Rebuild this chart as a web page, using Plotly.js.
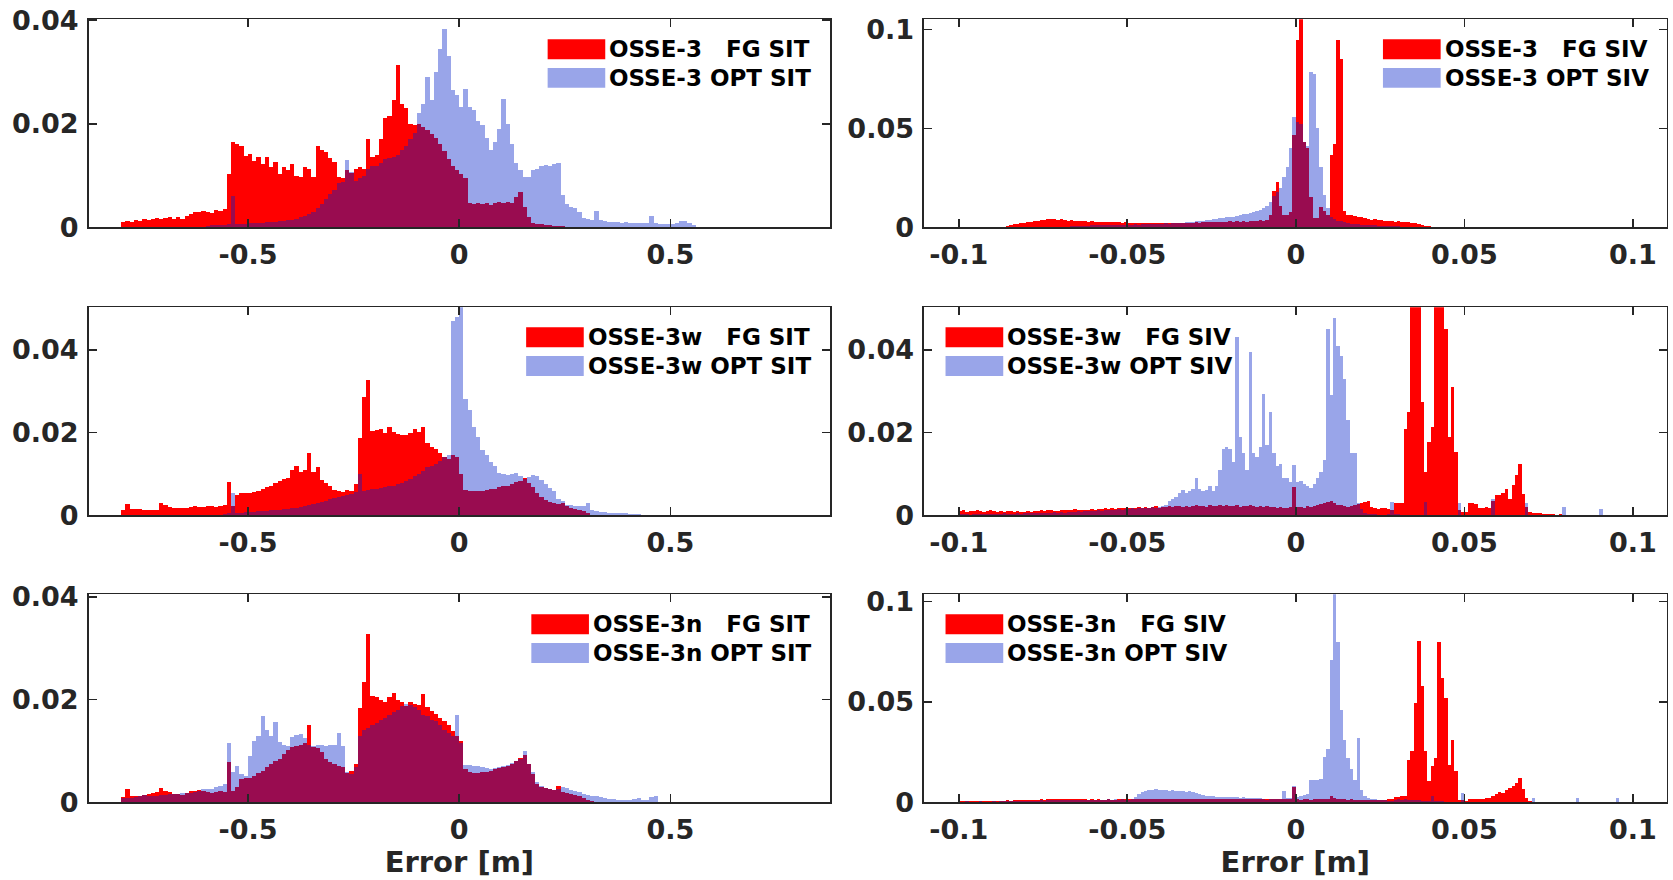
<!DOCTYPE html>
<html>
<head>
<meta charset="utf-8">
<script src="https://cdn.plot.ly/plotly-3.0.1.min.js"></script>
<style>
html,body{margin:0;padding:0;background:#ffffff;}
#chart{width:1673px;height:880px;}
</style>
</head>
<body>
<div id="chart"></div>
<script>
// ---------------- bins & ticks ----------------
const sitBinStart = -0.80, sitBinWidth = 0.01;   // SIT histograms: bins of 0.01 m
const sivBinStart = -0.100, sivBinWidth = 0.001; // SIV histograms: bins of 0.001 m

const sitXTickVals = [-0.5, 0, 0.5];
const sitXTickText = ['-0.5', '0', '0.5'];
const sivXTickVals = [-0.1, -0.05, 0, 0.05, 0.1];
const sivXTickText = ['-0.1', '-0.05', '0', '0.05', '0.1'];
const sitYTickVals = [0, 0.02, 0.04];
const sitYTickText = ['0', '0.02', '0.04'];
const sivYTickValsA = [0, 0.05, 0.1];
const sivYTickTextA = ['0', '0.05', '0.1'];
const sivYTickValsW = [0, 0.02, 0.04];
const sivYTickTextW = ['0', '0.02', '0.04'];

const legendFG  = ['OSSE-3\u00a0\u00a0\u00a0FG SIT', 'OSSE-3\u00a0\u00a0\u00a0FG SIV', 'OSSE-3w\u00a0\u00a0\u00a0FG SIT', 'OSSE-3w\u00a0\u00a0\u00a0FG SIV', 'OSSE-3n\u00a0\u00a0\u00a0FG SIT', 'OSSE-3n\u00a0\u00a0\u00a0FG SIV'];
const legendOPT = ['OSSE-3 OPT SIT', 'OSSE-3 OPT SIV', 'OSSE-3w OPT SIT', 'OSSE-3w OPT SIV', 'OSSE-3n OPT SIT', 'OSSE-3n OPT SIV'];
const xLabel = 'Error [m]';

// ---------------- SIT data (bins from -0.80 step 0.01) ----------------
const osse3_FG_SIT = [
 0.0010,0.0012,0.0011,0.0014,0.0013,0.0016,0.0015,0.0017,0.0018,0.0017,
 0.0018,0.0019,0.0017,0.0020,0.0016,0.0022,0.0026,0.0030,0.0029,0.0032,
 0.0030,0.0028,0.0033,0.0031,0.0036,0.0103,0.0165,0.0160,0.0158,0.0138,
 0.0142,0.0129,0.0135,0.0123,0.0136,0.0116,0.0126,0.0103,0.0116,0.0110,
 0.0123,0.0100,0.0098,0.0117,0.0112,0.0097,0.0158,0.0150,0.0145,0.0133,
 0.0126,0.0098,0.0096,0.0110,0.0104,0.0112,0.0116,0.0112,0.0170,0.0135,
 0.0140,0.0170,0.0212,0.0215,0.0245,0.0313,0.0238,0.0230,0.0200,0.0198,
 0.0200,0.0194,0.0187,0.0181,0.0172,0.0160,0.0148,0.0132,0.0118,0.0110,
 0.0103,0.0096,0.0046,0.0045,0.0047,0.0045,0.0046,0.0044,0.0047,0.0048,
 0.0046,0.0048,0.0047,0.0058,0.0068,0.0040,0.0020,0.0008,0.0006,0.0006,
 0.0005,0.0004,0.0003,0.0003,0.0002,0.0001,0,0,0,0,
 0,0,0,0,0,0,0,0,0,0,
 0,0,0,0,0,0,0,0,0,0,
 0,0,0,0,0,0];
const osse3_OPT_SIT = [
 0,0,0,0,0,0,0,0,0,0,
 0,0,0,0,0,0,0,0,0,0,
 0.0003,0.0004,0.0004,0.0005,0.0005,0.0006,0.0060,0.0006,0.0007,0.0007,
 0.0008,0.0008,0.0009,0.0009,0.0010,0.0010,0.0011,0.0012,0.0013,0.0014,
 0.0015,0.0017,0.0019,0.0022,0.0026,0.0030,0.0038,0.0045,0.0055,0.0065,
 0.0072,0.0085,0.0088,0.0130,0.0106,0.0090,0.0095,0.0100,0.0112,0.0118,
 0.0118,0.0125,0.0132,0.0134,0.0136,0.0140,0.0150,0.0158,0.0170,0.0182,
 0.0220,0.0238,0.0290,0.0245,0.0300,0.0345,0.0384,0.0330,0.0265,0.0255,
 0.0232,0.0268,0.0232,0.0226,0.0206,0.0198,0.0172,0.0150,0.0165,0.0190,
 0.0248,0.0200,0.0160,0.0125,0.0110,0.0097,0.0098,0.0110,0.0112,0.0118,
 0.0120,0.0118,0.0122,0.0125,0.0062,0.0045,0.0040,0.0038,0.0030,0.0018,
 0.0016,0.0015,0.0032,0.0014,0.0012,0.0011,0.0010,0.0010,0.0009,0.0010,
 0.0009,0.0008,0.0009,0.0008,0.0008,0.0022,0.0008,0.0007,0.0007,0.0006,
 0.0007,0.0008,0.0013,0.0012,0.0009,0.0005];

const osse3w_FG_SIT = [
 0.0014,0.0028,0.0016,0.0016,0.0015,0.0014,0.0014,0.0013,0.0013,0.0030,
 0.0024,0.0020,0.0018,0.0019,0.0017,0.0018,0.0021,0.0022,0.0020,0.0020,
 0.0022,0.0023,0.0021,0.0022,0.0024,0.0080,0.0022,0.0050,0.0053,0.0054,
 0.0055,0.0057,0.0060,0.0064,0.0068,0.0072,0.0078,0.0082,0.0087,0.0091,
 0.0110,0.0120,0.0105,0.0110,0.0152,0.0105,0.0118,0.0085,0.0078,0.0072,
 0.0062,0.0058,0.0056,0.0062,0.0060,0.0075,0.0188,0.0285,0.0327,0.0205,
 0.0206,0.0210,0.0200,0.0214,0.0202,0.0196,0.0194,0.0195,0.0200,0.0208,
 0.0202,0.0214,0.0175,0.0165,0.0160,0.0150,0.0142,0.0136,0.0145,0.0140,
 0.0100,0.0062,0.0060,0.0060,0.0059,0.0060,0.0062,0.0063,0.0065,0.0068,
 0.0070,0.0072,0.0076,0.0080,0.0084,0.0090,0.0078,0.0068,0.0055,0.0045,
 0.0038,0.0032,0.0030,0.0028,0.0030,0.0022,0.0018,0.0016,0.0014,0.0010,
 0.0005,0.0002,0,0,0,0,0,0,0,0,
 0,0,0,0,0,0,0,0,0,0,
 0,0,0,0,0,0];
const osse3w_OPT_SIT = [
 0,0,0,0,0,0,0,0,0,0,
 0,0,0,0,0,0,0,0,0,0,
 0,0,0,0,0.0003,0.0005,0.0055,0.0006,0.0007,0.0008,
 0.0008,0.0009,0.0010,0.0010,0.0011,0.0012,0.0013,0.0014,0.0015,0.0016,
 0.0017,0.0018,0.0020,0.0022,0.0024,0.0027,0.0030,0.0033,0.0036,0.0040,
 0.0042,0.0045,0.0048,0.0050,0.0052,0.0056,0.0100,0.0060,0.0062,0.0064,
 0.0065,0.0066,0.0068,0.0070,0.0072,0.0075,0.0078,0.0082,0.0088,0.0095,
 0.0100,0.0108,0.0116,0.0120,0.0125,0.0132,0.0140,0.0145,0.0470,0.0480,
 0.0510,0.0282,0.0254,0.0214,0.0190,0.0157,0.0145,0.0130,0.0120,0.0102,
 0.0100,0.0098,0.0100,0.0102,0.0095,0.0089,0.0092,0.0097,0.0096,0.0085,
 0.0075,0.0066,0.0058,0.0040,0.0034,0.0026,0.0024,0.0023,0.0022,0.0022,
 0.0030,0.0012,0.0010,0.0009,0.0008,0.0007,0.0006,0.0006,0.0005,0.0005,
 0.0004,0.0004,0.0003,0.0002,0.0001,0,0,0,0,0,
 0,0,0,0,0,0];

const osse3n_FG_SIT = [
 0.0010,0.0026,0.0012,0.0013,0.0012,0.0014,0.0016,0.0018,0.0020,0.0028,
 0.0022,0.0020,0.0017,0.0016,0.0015,0.0018,0.0022,0.0023,0.0024,0.0022,
 0.0020,0.0019,0.0021,0.0022,0.0020,0.0078,0.0022,0.0030,0.0045,0.0047,
 0.0048,0.0052,0.0058,0.0062,0.0068,0.0074,0.0080,0.0085,0.0095,0.0102,
 0.0108,0.0110,0.0112,0.0115,0.0150,0.0108,0.0106,0.0098,0.0085,0.0079,
 0.0074,0.0070,0.0068,0.0058,0.0062,0.0075,0.0184,0.0235,0.0328,0.0207,
 0.0205,0.0200,0.0196,0.0205,0.0212,0.0200,0.0196,0.0188,0.0195,0.0192,
 0.0190,0.0210,0.0185,0.0178,0.0172,0.0165,0.0158,0.0150,0.0138,0.0130,
 0.0120,0.0065,0.0059,0.0058,0.0058,0.0059,0.0060,0.0062,0.0064,0.0066,
 0.0068,0.0070,0.0074,0.0080,0.0086,0.0092,0.0075,0.0055,0.0035,0.0030,
 0.0028,0.0026,0.0025,0.0032,0.0020,0.0018,0.0016,0.0014,0.0012,0.0008,
 0.0004,0.0002,0,0,0,0,0,0,0,0,
 0,0,0,0,0,0,0,0,0,0,
 0,0,0,0,0,0];
const osse3n_OPT_SIT = [
 0.0008,0.0008,0.0009,0.0010,0.0012,0.0014,0.0013,0.0012,0.0013,0.0014,
 0.0015,0.0016,0.0016,0.0017,0.0018,0.0018,0.0019,0.0020,0.0022,0.0026,
 0.0026,0.0027,0.0030,0.0032,0.0035,0.0115,0.0060,0.0070,0.0055,0.0052,
 0.0090,0.0120,0.0130,0.0168,0.0140,0.0130,0.0157,0.0118,0.0112,0.0110,
 0.0128,0.0132,0.0134,0.0125,0.0112,0.0110,0.0112,0.0111,0.0110,0.0111,
 0.0112,0.0135,0.0110,0.0060,0.0055,0.0068,0.0130,0.0140,0.0145,0.0150,
 0.0155,0.0160,0.0165,0.0170,0.0175,0.0180,0.0188,0.0192,0.0190,0.0186,
 0.0180,0.0170,0.0168,0.0160,0.0158,0.0150,0.0140,0.0135,0.0130,0.0170,
 0.0115,0.0072,0.0072,0.0071,0.0070,0.0068,0.0066,0.0065,0.0066,0.0068,
 0.0070,0.0072,0.0076,0.0080,0.0085,0.0100,0.0075,0.0060,0.0040,0.0032,
 0.0028,0.0026,0.0024,0.0026,0.0030,0.0028,0.0025,0.0022,0.0020,0.0017,
 0.0015,0.0013,0.0012,0.0010,0.0008,0.0007,0.0006,0.0005,0.0005,0.0004,
 0.0005,0.0006,0.0008,0.0004,0.0004,0.0010,0.0012,0,0,0,
 0,0,0,0,0,0];

// ---------------- SIV data (bins from -0.100 step 0.001) ----------------
const osse3_FG_SIV = [
 0,0,0,0,0,0,0,0,0,0,
 0,0,0,0,0.0008,0.0012,0.0015,0.0018,0.0020,0.0022,
 0.0025,0.0028,0.0030,0.0032,0.0035,0.0038,0.0042,0.0040,0.0043,0.0038,
 0.0040,0.0036,0.0034,0.0035,0.0032,0.0033,0.0030,0.0031,0.0029,0.0030,
 0.0028,0.0029,0.0027,0.0028,0.0026,0.0027,0.0025,0.0026,0.0024,0.0025,
 0.0023,0.0024,0.0022,0.0023,0.0021,0.0022,0.0020,0.0022,0.0021,0.0020,
 0.0022,0.0021,0.0022,0.0020,0.0023,0.0021,0.0022,0.0024,0.0022,0.0023,
 0.0025,0.0024,0.0026,0.0025,0.0027,0.0026,0.0028,0.0027,0.0029,0.0028,
 0.0030,0.0028,0.0030,0.0027,0.0031,0.0029,0.0032,0.0030,0.0033,0.0035,
 0.0034,0.0037,0.0060,0.0185,0.0230,0.0110,0.0062,0.0060,0.0075,0.0466,
 0.0945,0.1080,0.0430,0.0400,0.0155,0.0045,0.0045,0.0104,0.0080,0.0060,
 0.0365,0.0420,0.0945,0.0850,0.0080,0.0060,0.0060,0.0055,0.0054,0.0050,
 0.0045,0.0040,0.0038,0.0040,0.0038,0.0035,0.0033,0.0030,0.0032,0.0028,
 0.0030,0.0027,0.0025,0.0026,0.0022,0.0020,0.0016,0.0012,0.0009,0.0006,
 0.0004,0,0,0,0,0,0,0,0,0,
 0,0,0,0,0,0,0,0,0,0,
 0,0,0,0,0,0,0,0,0,0,
 0,0,0,0,0,0,0,0,0,0,
 0,0,0,0,0,0,0,0,0,0,
 0,0,0,0,0,0,0,0,0,0];
const osse3_OPT_SIV = [
 0,0,0,0,0,0,0,0,0,0,
 0,0,0,0,0,0,0,0,0,0,
 0,0,0,0,0,0,0,0,0,0,
 0,0,0.0004,0.0006,0.0007,0.0008,0.0008,0.0009,0.0009,0.0010,
 0.0010,0.0011,0.0010,0.0012,0.0011,0.0012,0.0013,0.0012,0.0013,0.0014,
 0.0013,0.0014,0.0015,0.0014,0.0016,0.0015,0.0017,0.0016,0.0018,0.0017,
 0.0019,0.0020,0.0019,0.0021,0.0022,0.0024,0.0023,0.0026,0.0027,0.0029,
 0.0030,0.0032,0.0034,0.0036,0.0038,0.0040,0.0042,0.0045,0.0047,0.0050,
 0.0052,0.0054,0.0056,0.0060,0.0066,0.0068,0.0072,0.0078,0.0080,0.0088,
 0.0096,0.0110,0.0130,0.0160,0.0180,0.0200,0.0256,0.0306,0.0400,0.0558,
 0.0530,0.0520,0.0430,0.0410,0.0785,0.0777,0.0500,0.0306,0.0163,0.0096,
 0.0050,0.0040,0.0030,0.0030,0.0025,0.0020,0.0018,0.0016,0.0015,0.0014,
 0.0012,0.0012,0.0010,0.0010,0.0009,0.0008,0.0008,0.0007,0.0006,0.0006,
 0.0005,0.0004,0.0003,0.0002,0.0001,0,0,0,0,0,
 0,0,0,0,0,0,0,0,0,0,
 0,0,0,0,0,0,0,0,0,0,
 0,0,0,0,0,0,0,0,0,0,
 0,0,0,0,0,0,0,0,0,0,
 0,0,0,0,0,0,0,0,0,0,
 0,0,0,0,0,0,0,0,0,0];

const osse3w_FG_SIV = [
 0.0010,0.0012,0.0009,0.0011,0.0010,0.0013,0.0011,0.0009,0.0010,0.0012,
 0.0011,0.0009,0.0010,0.0008,0.0010,0.0011,0.0009,0.0010,0.0008,0.0009,
 0.0010,0.0009,0.0011,0.0010,0.0012,0.0011,0.0013,0.0012,0.0010,0.0011,
 0.0012,0.0014,0.0013,0.0012,0.0015,0.0013,0.0014,0.0012,0.0013,0.0015,
 0.0014,0.0016,0.0015,0.0017,0.0016,0.0018,0.0015,0.0017,0.0019,0.0018,
 0.0017,0.0019,0.0018,0.0020,0.0019,0.0021,0.0018,0.0020,0.0022,0.0019,
 0.0021,0.0020,0.0022,0.0021,0.0023,0.0022,0.0020,0.0023,0.0021,0.0022,
 0.0024,0.0022,0.0023,0.0021,0.0024,0.0022,0.0023,0.0025,0.0022,0.0024,
 0.0023,0.0022,0.0024,0.0021,0.0023,0.0022,0.0024,0.0023,0.0021,0.0022,
 0.0021,0.0022,0.0020,0.0021,0.0019,0.0020,0.0018,0.0019,0.0020,0.0069,
 0.0020,0.0021,0.0019,0.0022,0.0020,0.0023,0.0025,0.0028,0.0030,0.0033,
 0.0035,0.0030,0.0026,0.0024,0.0022,0.0020,0.0022,0.0025,0.0028,0.0030,
 0.0032,0.0035,0.0020,0.0017,0.0016,0.0018,0.0017,0.0015,0.0012,0.0030,
 0.0031,0.0030,0.0210,0.0250,0.0520,0.0540,0.0540,0.0273,0.0105,0.0177,
 0.0213,0.0540,0.0540,0.0540,0.0450,0.0189,0.0310,0.0153,0.0013,0.0009,
 0.0009,0.0029,0.0029,0.0028,0.0019,0.0019,0.0020,0.0018,0.0035,0.0049,
 0.0050,0.0054,0.0065,0.0040,0.0073,0.0097,0.0125,0.0052,0.0021,0.0009,
 0.0005,0.0005,0.0005,0.0003,0.0003,0.0003,0.0003,0.0002,0.0003,0.0002,
 0.0002,0.0002,0.0001,0.0002,0.0001,0.0001,0.0001,0,0,0,
 0,0,0,0,0,0,0,0,0,0];
const osse3w_OPT_SIV = [
 0.0003,0.0004,0.0003,0.0002,0.0003,0.0004,0.0003,0.0003,0.0004,0.0003,
 0.0004,0.0003,0.0004,0.0005,0.0004,0.0003,0.0004,0.0005,0.0004,0.0005,
 0.0005,0.0006,0.0005,0.0006,0.0007,0.0006,0.0007,0.0006,0.0008,0.0007,
 0.0008,0.0007,0.0009,0.0008,0.0009,0.0010,0.0009,0.0010,0.0011,0.0010,
 0.0011,0.0012,0.0011,0.0013,0.0012,0.0014,0.0013,0.0015,0.0014,0.0016,
 0.0016,0.0017,0.0016,0.0018,0.0017,0.0019,0.0018,0.0020,0.0019,0.0021,
 0.0022,0.0024,0.0035,0.0040,0.0045,0.0055,0.0062,0.0055,0.0060,0.0065,
 0.0090,0.0065,0.0058,0.0062,0.0070,0.0060,0.0072,0.0110,0.0160,0.0165,
 0.0160,0.0130,0.0430,0.0190,0.0150,0.0110,0.0394,0.0150,0.0140,0.0165,
 0.0293,0.0170,0.0250,0.0150,0.0120,0.0125,0.0090,0.0090,0.0080,0.0122,
 0.0080,0.0082,0.0075,0.0070,0.0066,0.0075,0.0090,0.0105,0.0135,0.0450,
 0.0290,0.0478,0.0410,0.0385,0.0330,0.0230,0.0150,0.0150,0.0030,0.0015,
 0.0005,0.0004,0.0003,0.0003,0.0002,0.0002,0.0002,0.0003,0.0033,0.0003,
 0.0003,0.0002,0.0002,0.0002,0.0002,0.0002,0.0002,0.0002,0.0033,0.0002,
 0.0002,0.0002,0.0002,0.0002,0.0002,0.0002,0.0002,0.0002,0.0030,0.0002,
 0.0002,0.0002,0.0002,0.0002,0.0002,0.0002,0.0002,0.0002,0.0040,0.0002,
 0.0002,0.0002,0.0002,0.0002,0.0002,0.0002,0.0002,0.0002,0.0030,0.0002,
 0.0002,0.0001,0.0001,0.0001,0.0001,0.0001,0.0001,0.0001,0.0001,0.0020,
 0.0001,0.0001,0.0001,0.0001,0.0001,0.0001,0.0001,0.0001,0.0001,0.0001,
 0.0016,0,0,0,0,0,0,0,0,0];

const osse3n_FG_SIV = [
 0.0008,0.0006,0.0009,0.0007,0.0008,0.0006,0.0007,0.0009,0.0008,0.0007,
 0.0008,0.0007,0.0009,0.0008,0.0010,0.0009,0.0011,0.0010,0.0012,0.0011,
 0.0013,0.0012,0.0014,0.0013,0.0015,0.0014,0.0016,0.0015,0.0017,0.0016,
 0.0017,0.0016,0.0018,0.0017,0.0016,0.0017,0.0015,0.0016,0.0014,0.0015,
 0.0014,0.0015,0.0013,0.0014,0.0015,0.0013,0.0014,0.0015,0.0016,0.0015,
 0.0016,0.0017,0.0016,0.0018,0.0017,0.0016,0.0018,0.0017,0.0019,0.0018,
 0.0017,0.0018,0.0016,0.0017,0.0018,0.0016,0.0017,0.0018,0.0017,0.0016,
 0.0017,0.0018,0.0016,0.0017,0.0018,0.0019,0.0017,0.0018,0.0016,0.0017,
 0.0018,0.0017,0.0019,0.0018,0.0017,0.0016,0.0018,0.0017,0.0016,0.0017,
 0.0016,0.0017,0.0015,0.0016,0.0017,0.0015,0.0016,0.0018,0.0017,0.0075,
 0.0015,0.0014,0.0016,0.0015,0.0014,0.0016,0.0015,0.0017,0.0016,0.0018,
 0.0030,0.0020,0.0017,0.0015,0.0016,0.0014,0.0015,0.0013,0.0014,0.0012,
 0.0013,0.0012,0.0014,0.0013,0.0012,0.0014,0.0013,0.0015,0.0018,0.0025,
 0.0028,0.0030,0.0030,0.0213,0.0255,0.0497,0.0805,0.0580,0.0255,0.0105,
 0.0180,0.0222,0.0797,0.0622,0.0522,0.0188,0.0313,0.0158,0.0012,0.0010,
 0.0008,0.0015,0.0018,0.0017,0.0016,0.0018,0.0020,0.0022,0.0030,0.0040,
 0.0050,0.0045,0.0060,0.0070,0.0080,0.0095,0.0120,0.0065,0.0020,0.0005,
 0.0003,0.0002,0.0002,0.0001,0.0001,0,0,0,0,0,
 0,0,0,0,0,0,0,0,0,0,
 0,0,0,0,0,0,0,0,0,0];
const osse3n_OPT_SIV = [
 0.0004,0.0003,0.0005,0.0004,0.0003,0.0004,0.0005,0.0004,0.0003,0.0004,
 0.0005,0.0004,0.0005,0.0006,0.0005,0.0006,0.0007,0.0006,0.0007,0.0008,
 0.0008,0.0009,0.0008,0.0009,0.0010,0.0009,0.0010,0.0011,0.0010,0.0011,
 0.0011,0.0012,0.0011,0.0012,0.0013,0.0012,0.0013,0.0012,0.0013,0.0014,
 0.0013,0.0014,0.0013,0.0014,0.0015,0.0014,0.0015,0.0014,0.0015,0.0012,
 0.0010,0.0015,0.0025,0.0040,0.0050,0.0055,0.0060,0.0062,0.0065,0.0060,
 0.0064,0.0062,0.0058,0.0060,0.0056,0.0055,0.0058,0.0052,0.0055,0.0050,
 0.0048,0.0042,0.0038,0.0034,0.0032,0.0030,0.0028,0.0027,0.0028,0.0026,
 0.0027,0.0025,0.0026,0.0024,0.0025,0.0023,0.0024,0.0022,0.0023,0.0021,
 0.0015,0.0014,0.0016,0.0015,0.0016,0.0018,0.0058,0.0020,0.0022,0.0080,
 0.0025,0.0030,0.0035,0.0040,0.0110,0.0110,0.0110,0.0118,0.0228,0.0268,
 0.0710,0.1060,0.0800,0.0460,0.0310,0.0220,0.0165,0.0110,0.0320,0.0060,
 0.0030,0.0022,0.0018,0.0015,0.0013,0.0012,0.0010,0.0008,0.0006,0.0012,
 0.0015,0.0014,0.0015,0.0014,0.0013,0.0012,0.0010,0.0009,0.0008,0.0008,
 0.0030,0.0006,0.0005,0.0005,0.0004,0.0004,0.0003,0.0003,0.0003,0.0047,
 0.0003,0.0003,0.0002,0.0002,0.0002,0.0002,0.0002,0.0002,0.0002,0.0002,
 0.0002,0.0002,0.0002,0.0002,0.0002,0.0002,0.0002,0.0002,0.0002,0.0002,
 0.0020,0.0002,0.0001,0.0001,0.0001,0.0001,0.0001,0.0001,0.0001,0.0001,
 0.0001,0.0001,0.0001,0.0020,0.0001,0.0001,0.0001,0.0001,0.0001,0.0001,
 0.0001,0.0001,0.0001,0.0001,0.0001,0.0020,0.0001,0,0,0];

// ---------------- styles ----------------
const FG_COLOR = 'rgb(255,0,0)';
const OPT_COLOR = 'rgba(0,30,200,0.40)';
const AXIS_COLOR = '#262626';
const FONT = 'DejaVu Sans';

const colDomains = [[0.0530, 0.4962], [0.5523, 0.9962]];
const rowDomains = [[0.7417, 0.9782], [0.4143, 0.6508], [0.0882, 0.3247]];

const panels = [
  {fg: osse3_FG_SIT,  opt: osse3_OPT_SIT,  start: sitBinStart, w: sitBinWidth, xr: [-0.877, 0.878], yr: [0, 0.0402], xtv: sitXTickVals, xtt: sitXTickText, ytv: sitYTickVals,  ytt: sitYTickText,  row: 0, col: 0, legX: 0.619},
  {fg: osse3_FG_SIV,  opt: osse3_OPT_SIV,  start: sivBinStart, w: sivBinWidth, xr: [-0.1103, 0.1100], yr: [0, 0.1052], xtv: sivXTickVals, xtt: sivXTickText, ytv: sivYTickValsA, ytt: sivYTickTextA, row: 0, col: 1, legX: 0.618},
  {fg: osse3w_FG_SIT, opt: osse3w_OPT_SIT, start: sitBinStart, w: sitBinWidth, xr: [-0.877, 0.878], yr: [0, 0.0503], xtv: sitXTickVals, xtt: sitXTickText, ytv: sitYTickVals,  ytt: sitYTickText,  row: 1, col: 0, legX: 0.590},
  {fg: osse3w_FG_SIV, opt: osse3w_OPT_SIV, start: sivBinStart, w: sivBinWidth, xr: [-0.1103, 0.1100], yr: [0, 0.0503], xtv: sivXTickVals, xtt: sivXTickText, ytv: sivYTickValsW, ytt: sivYTickTextW, row: 1, col: 1, legX: 0.029},
  {fg: osse3n_FG_SIT, opt: osse3n_OPT_SIT, start: sitBinStart, w: sitBinWidth, xr: [-0.877, 0.878], yr: [0, 0.0405], xtv: sitXTickVals, xtt: sitXTickText, ytv: sitYTickVals,  ytt: sitYTickText,  row: 2, col: 0, legX: 0.597},
  {fg: osse3n_FG_SIV, opt: osse3n_OPT_SIV, start: sivBinStart, w: sivBinWidth, xr: [-0.1103, 0.1100], yr: [0, 0.1037], xtv: sivXTickVals, xtt: sivXTickText, ytv: sivYTickValsA, ytt: sivYTickTextA, row: 2, col: 1, legX: 0.029}
];

function binCenters(n, start, w) {
  const c = [];
  for (let i = 0; i < n; i++) c.push(+(start + (i + 0.5) * w).toFixed(6));
  return c;
}

const tickFont = {family: FONT, size: 27, color: AXIS_COLOR, weight: 'bold'};
function axisBase() {
  return {
    showline: true, linecolor: AXIS_COLOR, linewidth: 1.6, mirror: 'ticks',
    ticks: 'inside', ticklen: 8, tickwidth: 1.6, tickcolor: AXIS_COLOR,
    showgrid: false, zeroline: false, tickmode: 'array', tickfont: tickFont,
    fixedrange: true
  };
}

const traces = [];
const layout = {
  width: 1673, height: 880,
  margin: {l: 0, r: 0, t: 0, b: 0},
  paper_bgcolor: '#ffffff', plot_bgcolor: '#ffffff',
  barmode: 'overlay', bargap: 0, showlegend: false,
  shapes: [], annotations: []
};

panels.forEach((p, i) => {
  const sfx = i === 0 ? '' : String(i + 1);
  const xa = 'x' + sfx, ya = 'y' + sfx;
  const n = Math.max(p.fg.length, p.opt.length);
  const xs = binCenters(n, p.start, p.w);
  traces.push({type: 'bar', x: xs, y: p.fg, width: p.w, xaxis: xa, yaxis: ya,
    name: legendFG[i].replace(/\u00a0+/g, ' '), marker: {color: FG_COLOR, line: {width: 0}}, hoverinfo: 'x+y+name'});
  traces.push({type: 'bar', x: xs, y: p.opt, width: p.w, xaxis: xa, yaxis: ya,
    name: legendOPT[i], marker: {color: OPT_COLOR, line: {width: 0}}, hoverinfo: 'x+y+name'});

  const xaxis = Object.assign(axisBase(), {
    domain: colDomains[p.col], range: p.xr, anchor: ya,
    tickvals: p.xtv, ticktext: p.xtt, ticklabelstandoff: 3
  });
  if (p.row === 2) {
    xaxis.title = {text: xLabel, font: {family: FONT, size: 29, color: AXIS_COLOR, weight: 'bold'}, standoff: 3};
  }
  const yaxis = Object.assign(axisBase(), {
    domain: rowDomains[p.row], range: p.yr, anchor: xa,
    tickvals: p.ytv, ticktext: p.ytt, ticklabelstandoff: 3
  });
  layout['xaxis' + sfx] = xaxis;
  layout['yaxis' + sfx] = yaxis;

  // legend box (MATLAB style wide swatches)
  const xref = xa + ' domain', yref = ya + ' domain';
  const rowsY = [0.856, 0.718];
  const sw = 0.0777, sh = 0.048;
  [[FG_COLOR, legendFG[i]], [OPT_COLOR, legendOPT[i]]].forEach((e, k) => {
    layout.shapes.push({type: 'rect', xref: xref, yref: yref,
      x0: p.legX, x1: p.legX + sw, y0: rowsY[k] - sh, y1: rowsY[k] + sh,
      fillcolor: e[0], line: {width: 0}, layer: 'above'});
    layout.annotations.push({xref: xref, yref: yref, x: p.legX + sw + 0.003, y: rowsY[k],
      xanchor: 'left', yanchor: 'middle', showarrow: false, text: e[1],
      font: {family: FONT, size: 23, color: '#000000', weight: 'bold'}});
  });
});

Plotly.newPlot('chart', traces, layout, {displayModeBar: false, staticPlot: true});
</script>
</body>
</html>
